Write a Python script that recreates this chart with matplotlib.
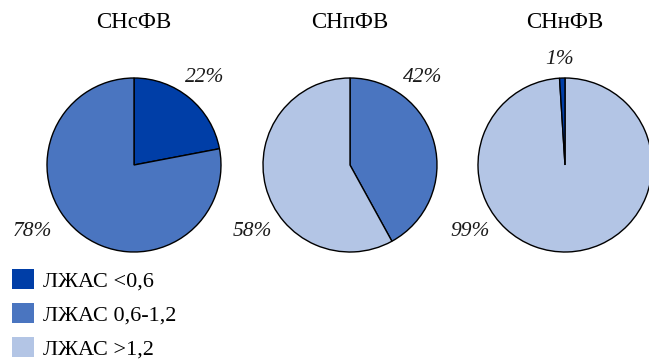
import matplotlib.pyplot as plt
from matplotlib.patches import Patch

plt.rcParams['font.family'] = ['Liberation Serif', 'DejaVu Serif']

groups = ['СНсФВ', 'СНпФВ', 'СНнФВ']
categories = ['ЛЖАС <0,6', 'ЛЖАС 0,6-1,2', 'ЛЖАС >1,2']
colors = ['#003EA7', '#4A75C0', '#B3C5E5']

# shares (%) per group, in drawing order (clockwise from 12 o'clock)
shares = [[22, 78], [42, 58], [99, 1]]
share_cats = [[0, 1], [1, 2], [2, 0]]

# label spots in pie radius units
label_pos = [[(0.81, 1.01), (-1.17, -0.76)],
             [(0.83, 1.01), (-1.12, -0.76)],
             [(-1.09, -0.76), (-0.06, 1.21)]]

W, H = 649, 359
fig = plt.figure(figsize=(W / 100, H / 100), dpi=100)

centers_x = [134, 350, 565]
cy, r = 165, 87

for i, g in enumerate(groups):
    ax = fig.add_axes([(centers_x[i] - r) / W, (H - cy - r) / H, 2 * r / W, 2 * r / H])
    ax.pie(shares[i], colors=[colors[c] for c in share_cats[i]], startangle=90,
           counterclock=False, radius=1,
           wedgeprops=dict(edgecolor='black', linewidth=1.0))
    ax.set_xlim(-1, 1)
    ax.set_ylim(-1, 1)
    ax.set_aspect('equal')
    ax.axis('off')
    for v, (lx, ly) in zip(shares[i], label_pos[i]):
        ax.text(lx, ly, f'{v}%', ha='center', va='center', fontsize=15.5,
                fontstyle='italic', color='#1a1a1a')
    fig.text(centers_x[i] / W, 1 - 23 / H, g, ha='center', va='center', fontsize=16.5)

handles = [Patch(facecolor=c, edgecolor='none') for c in colors]
fig.legend(handles, categories, loc='upper left', bbox_to_anchor=(12 / W, 1 - 269 / H),
           frameon=False, fontsize=16, handlelength=1.0, handleheight=1.0,
           handletextpad=0.4, labelspacing=0.52, borderpad=0, borderaxespad=0)

fig.savefig('out.png', dpi=100)
